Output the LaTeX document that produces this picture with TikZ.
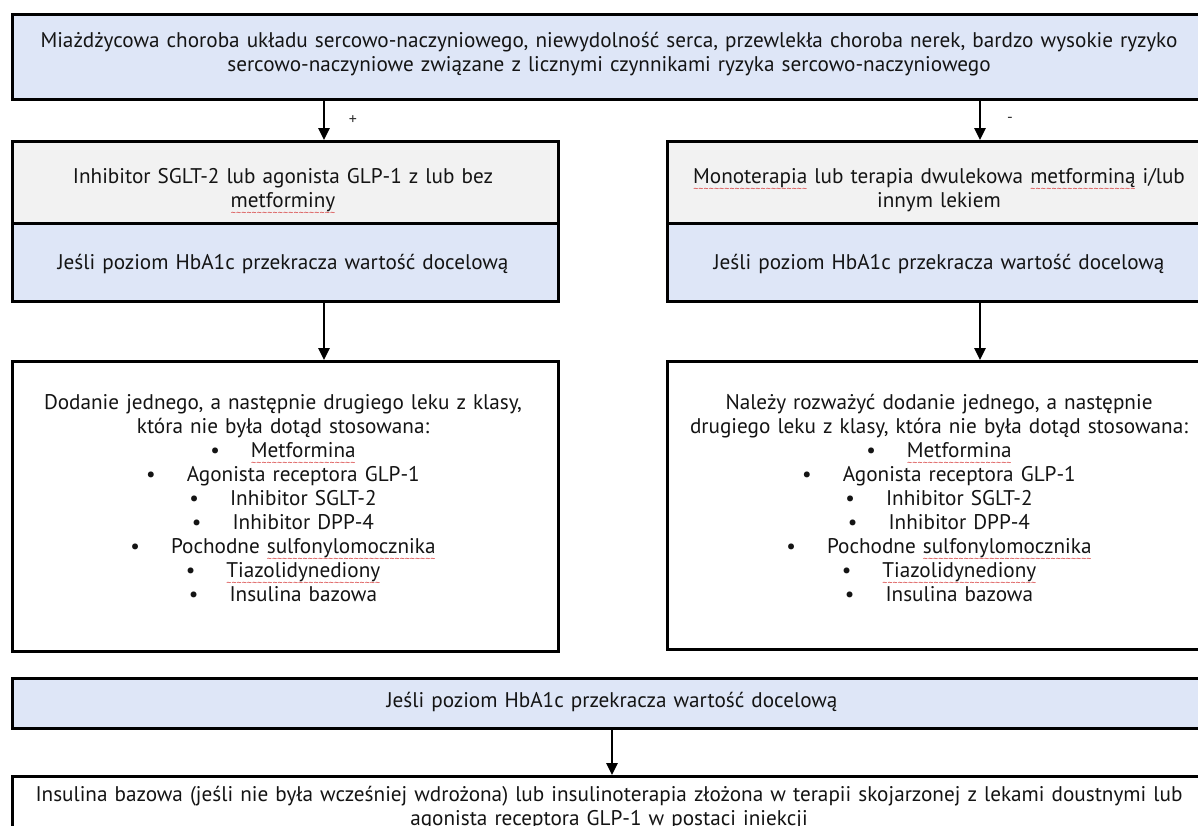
\documentclass[tikz,border=0pt]{standalone}
\usepackage{fontspec}
\setmainfont{PT Sans}
\usetikzlibrary{arrows.meta}
\definecolor{boxblue}{RGB}{222,230,247}
\definecolor{boxgray}{RGB}{242,242,242}
\definecolor{sqred}{RGB}{215,60,60}
\newcommand\sqw[1]{\leavevmode\setbox0\hbox{#1}\rlap{\copy0}\raisebox{-4.4pt}[0pt][0pt]{\hbox to \wd0{\color{sqred}\fontsize{5}{5}\selectfont\xleaders\hbox{\char126}\hfil}}}
\newcommand\bl{\textbullet\hspace{15.5pt}}
\begin{document}
\begin{tikzpicture}[x=0.5pt,y=-0.5pt,
  box/.style={draw=black, line width=1.4pt, inner sep=0pt, anchor=north west},
  txt/.style={align=center, inner sep=0pt, font=\fontsize{10.6}{12}\selectfont, text=black!92},
  lbl/.style={inner sep=0pt, font=\fontsize{8}{9}\selectfont, text=black!80},
  arr/.style={line width=1.3pt, -{Triangle[length=6pt,width=5.5pt]}}]
\useasboundingbox (0,0) rectangle (1198,825);
\clip (0,0) rectangle (1198,825);
\fill[white] (0,0) rectangle (1198,825);
% boxes
\node[box, fill=boxblue, minimum width=601pt, minimum height=42.5pt] (top) at (11,13) {};
\node[box, fill=boxgray, minimum width=273pt, minimum height=41pt] (L1) at (11,140) {};
\node[box, fill=boxblue, minimum width=273pt, minimum height=39pt] (L2) at (11,222) {};
\node[box, fill=boxgray, minimum width=273pt, minimum height=41pt] (R1) at (666,140) {};
\node[box, fill=boxblue, minimum width=273pt, minimum height=39pt] (R2) at (666,222) {};
\node[box, fill=white, minimum width=273pt, minimum height=145pt] (L3) at (11,360) {};
\node[box, fill=white, minimum width=273pt, minimum height=144pt] (R3) at (666,360) {};
\node[box, fill=boxblue, minimum width=601pt, minimum height=25pt] (B) at (11,677) {};
\node[box, fill=white, minimum width=601pt, minimum height=45pt] (F) at (11,775) {};
% texts
\node[txt, text width=595pt] (ttop) at (609,54) {Miażdżycowa choroba układu sercowo-naczyniowego, niewydolność serca, przewlekła choroba nerek, bardzo wysokie ryzyko\\ sercowo-naczyniowe związane z licznymi czynnikami ryzyka sercowo-naczyniowego};
\node[txt, text width=268pt] (tL1) at (283,190) {Inhibitor SGLT-2 lub agonista GLP-1 z lub bez\\ \sqw{metforminy}};
\node[txt, text width=268pt] (tL2) at (283,264) {Jeśli poziom HbA1c przekracza wartość docelową};
\node[txt, text width=268pt] (tR1) at (939,190) {\sqw{Monoterapia} lub terapia dwulekowa \sqw{metforminą} i/lub\\ innym lekiem};
\node[txt, text width=268pt] (tR2) at (939,264) {Jeśli poziom HbA1c przekracza wartość docelową};
\node[txt, text width=268pt] (tL3) at (283,498) {Dodanie jednego, a następnie drugiego leku z klasy,\\ która nie była dotąd stosowana:\\ \bl\sqw{Metformina}\\ \bl Agonista receptora GLP-1\\ \bl Inhibitor SGLT-2\\ \bl Inhibitor DPP-4\\ \bl Pochodne \sqw{sulfonylomocznika}\\ \bl\sqw{Tiazolidynediony}\\ \bl Insulina bazowa};
\node[txt, text width=268pt] (tR3) at (939,498) {Należy rozważyć dodanie jednego, a następnie\\ drugiego leku z klasy, która nie była dotąd stosowana:\\ \bl\sqw{Metformina}\\ \bl Agonista receptora GLP-1\\ \bl Inhibitor SGLT-2\\ \bl Inhibitor DPP-4\\ \bl Pochodne \sqw{sulfonylomocznika}\\ \bl\sqw{Tiazolidynediony}\\ \bl Insulina bazowa};
\node[txt, text width=595pt] (tB) at (612,702) {Jeśli poziom HbA1c przekracza wartość docelową};
\node[txt, text width=595pt] (tF) at (609,808) {Insulina bazowa (jeśli nie była wcześniej wdrożona) lub insulinoterapia złożona w terapii skojarzonej z lekami doustnymi lub\\ agonista receptora GLP-1 w postaci iniekcji};
% labels
\node[lbl] (plus) at (353,120) {+};
\node[lbl] (minus) at (1010,120) {-};
% arrows
\coordinate (axl) at (324,0);
\coordinate (axr) at (980,0);
\coordinate (axm) at (612,0);
\draw[arr] (top.south -| axl) -- (L1.north -| axl);
\draw[arr] (top.south -| axr) -- (R1.north -| axr);
\draw[arr] (L2.south -| axl) -- (L3.north -| axl);
\draw[arr] (R2.south -| axr) -- (R3.north -| axr);
\draw[arr] (B.south -| axm) -- (F.north -| axm);
\end{tikzpicture}
\end{document}
